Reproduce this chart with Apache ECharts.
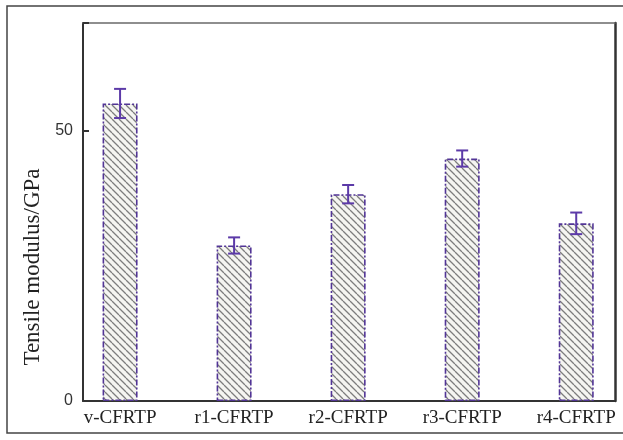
<!DOCTYPE html>
<html>
<head>
<meta charset="utf-8">
<script src="https://cdn.jsdelivr.net/npm/echarts@6/dist/echarts.min.js"></script>
<style>html,body{margin:0;padding:0;background:#fff;}#c{width:623px;height:440px;}</style>
</head>
<body>
<div id="c"></div>
<script>
// ---- data ----
const categories = ['v-CFRTP', 'r1-CFRTP', 'r2-CFRTP', 'r3-CFRTP', 'r4-CFRTP'];
const modulus = [55.1, 28.8, 38.3, 44.9, 32.9];
const errors = [2.7, 1.5, 1.7, 1.5, 2.0];
const yTicks = [0, 50];

// ---- hatch pattern ----
function hatch() {
  const s = 7;
  const c = document.createElement('canvas');
  c.width = s; c.height = s;
  const g = c.getContext('2d');
  g.fillStyle = '#f5f5f1';
  g.fillRect(0, 0, s, s);
  g.strokeStyle = '#7d7d7d';
  g.lineWidth = 1.3;
  g.beginPath();
  for (const k of [-s, 0, s]) { g.moveTo(k, 0); g.lineTo(k + s, s); }
  g.stroke();
  return c;
}

const barData = modulus.map((v, i) => [i, v]);
const errData = modulus.map((v, i) => [i, v - errors[i], v + errors[i]]);

const chart = echarts.init(document.getElementById('c'), null, {renderer: 'canvas'});
chart.setOption({
  animation: false,
  backgroundColor: '#fff',
  graphic: [{
    type: 'rect', silent: true, z: -1,
    shape: {x: 7, y: 6, width: 622, height: 427},
    style: {fill: 'none', stroke: '#444', lineWidth: 1.5}
  }],
  grid: {left: 83, right: 8, top: 23, bottom: 39, outerBoundsMode: 'none'},
  xAxis: [{
    type: 'value', min: -0.325, max: 4.34,
    splitLine: {show: false},
    axisTick: {show: false},
    axisLine: {show: true, onZero: false, lineStyle: {color: '#333', width: 2}},
    axisLabel: {
      margin: 8, fontFamily: 'Liberation Serif', fontSize: 19, color: '#222',
      showMinLabel: true, showMaxLabel: true,
      formatter: function (v) {
        const r = Math.round(v);
        return (Math.abs(v - r) < 1e-6 && r >= 0 && r < categories.length) ? categories[r] : '';
      }
    }
  }, {
    type: 'value', position: 'top', min: -0.325, max: 4.34,
    splitLine: {show: false}, axisTick: {show: false}, axisLabel: {show: false},
    axisLine: {show: true, onZero: false, lineStyle: {color: '#6a6a6a', width: 1.5}}
  }],
  yAxis: [{
    type: 'value', min: 0, max: 70, interval: 50,
    splitLine: {show: false},
    axisLine: {show: true, onZero: false, lineStyle: {color: '#333', width: 2}},
    axisTick: {show: true, inside: true, length: 6, lineStyle: {color: '#333', width: 2}},
    axisLabel: {
      margin: 10, fontFamily: 'Liberation Sans', fontSize: 16, color: '#333',
      formatter: v => (yTicks.indexOf(v) >= 0 ? String(v) : '')
    },
    name: 'Tensile modulus/GPa',
    nameLocation: 'middle',
    nameGap: 16,
    nameTextStyle: {fontFamily: 'Liberation Serif', fontSize: 23, color: '#222', padding: [0, 110, 0, 0]}
  }, {
    type: 'value', position: 'right', min: 0, max: 70,
    splitLine: {show: false}, axisTick: {show: false}, axisLabel: {show: false},
    axisLine: {show: true, onZero: false, lineStyle: {color: '#333', width: 2.5}}
  }],
  series: [{
    type: 'bar',
    xAxisIndex: 0, yAxisIndex: 0,
    data: barData,
    barWidth: 35,
    itemStyle: {
      color: {image: hatch(), repeat: 'repeat'},
      borderColor: '#523596',
      borderWidth: 1.6,
      borderType: [6, 2, 2, 2]
    }
  }, {
    type: 'custom',
    xAxisIndex: 0, yAxisIndex: 0,
    data: errData,
    z: 5,
    renderItem: function (params, api) {
      const x = api.value(0);
      const lo = api.coord([x, api.value(1)]);
      const hi = api.coord([x, api.value(2)]);
      const hw = 6;
      const st = {stroke: '#5c3aa8', lineWidth: 2};
      return {
        type: 'group',
        children: [
          {type: 'line', shape: {x1: lo[0], y1: lo[1], x2: hi[0], y2: hi[1]}, style: st},
          {type: 'line', shape: {x1: lo[0] - hw, y1: lo[1], x2: lo[0] + hw, y2: lo[1]}, style: st},
          {type: 'line', shape: {x1: hi[0] - hw, y1: hi[1], x2: hi[0] + hw, y2: hi[1]}, style: st}
        ]
      };
    }
  }]
});
</script>
</body>
</html>
